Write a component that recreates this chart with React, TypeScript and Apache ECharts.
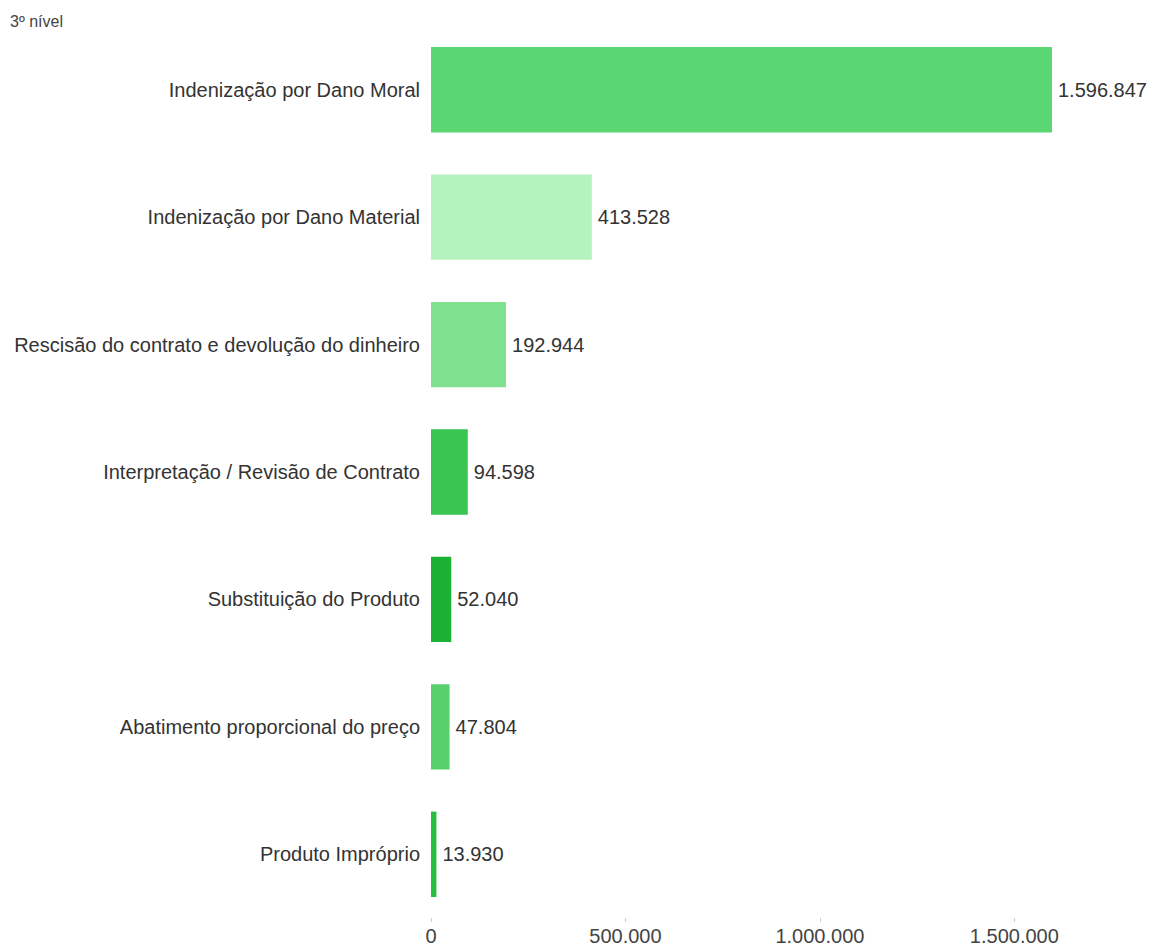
import React, { useEffect, useRef } from "react";
import * as echarts from "echarts";

const categories = [
  "Indenização por Dano Moral",
  "Indenização por Dano Material",
  "Rescisão do contrato e devolução do dinheiro",
  "Interpretação / Revisão de Contrato",
  "Substituição do Produto",
  "Abatimento proporcional do preço",
  "Produto Impróprio",
];
const values = [1596847, 413528, 192944, 94598, 52040, 47804, 13930];
const barColors = ["#5AD672", "#B5F3BE", "#80E290", "#3AC452", "#1BB133", "#58D16D", "#25BE3E"];
const xTicks = [0, 500000, 1000000, 1500000];

const fmt = (v: number) => String(Math.round(v)).replace(/\B(?=(\d{3})+(?!\d))/g, ".");
const FONT = "Liberation Sans, Arial, sans-serif";

export default function App() {
  const ref = useRef<HTMLDivElement>(null);
  useEffect(() => {
    if (!ref.current) return;
    const chart = echarts.init(ref.current, null, { renderer: "svg" });
    chart.setOption({
      animation: false,
      backgroundColor: "#ffffff",
      title: {
        text: "3º nível",
        left: 5,
        top: 8,
        textStyle: { fontFamily: FONT, fontSize: 16, fontWeight: "normal", color: "#444" },
      },
      grid: { left: 431, width: 700, top: 26, bottom: 29, containLabel: false },
      xAxis: {
        type: "value",
        min: 0,
        max: 1800000,
        interval: 500000,
        axisLine: { show: false },
        axisTick: { show: true, length: 4, lineStyle: { color: "#ccc" }, customValues: xTicks },
        splitLine: { show: false },
        axisLabel: {
          margin: 8,
          fontFamily: FONT,
          fontSize: 20,
          color: "#444",
          customValues: xTicks,
          formatter: (v: number) => fmt(v),
        },
      },
      yAxis: {
        type: "category",
        inverse: true,
        data: categories,
        axisLine: { show: false },
        axisTick: { show: false },
        axisLabel: {
          margin: 11,
          fontFamily: FONT,
          fontSize: 20,
          color: "#333",
        },
      },
      series: [
        {
          type: "bar",
          data: values.map((v, i) => ({ value: v, itemStyle: { color: barColors[i] } })),
          barCategoryGap: "33%",
          label: {
            show: true,
            position: "right",
            distance: 6,
            fontFamily: FONT,
            fontSize: 20,
            color: "#333",
            formatter: (p: any) => fmt(p.value),
          },
        },
      ],
    });
    return () => chart.dispose();
  }, []);
  return <div ref={ref} style={{ position: "absolute", left: 0, top: 0, width: 1152, height: 947 }} />;
}
